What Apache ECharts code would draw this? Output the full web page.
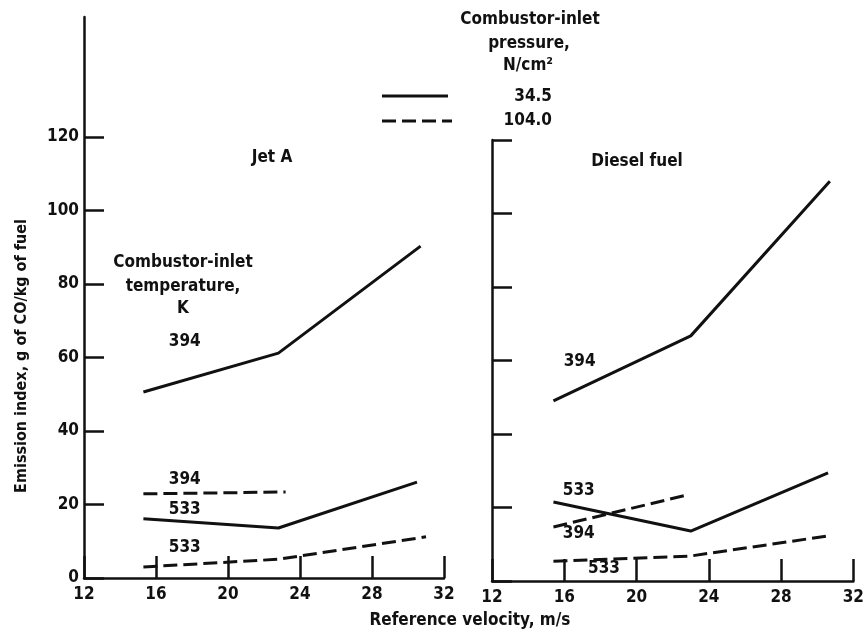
<!DOCTYPE html>
<html>
<head>
<meta charset="utf-8">
<script src="https://cdn.jsdelivr.net/npm/echarts@6/dist/echarts.min.js"></script>
<style>
html,body{margin:0;padding:0;background:#fff}
#chart{width:867px;height:637px}
</style>
</head>
<body>
<div id="chart"></div>
<script>
// data: [reference velocity m/s, emission index g CO/kg fuel]
// Jet A
var jetA_394_p345 = [[15.3, 50.6], [22.8, 61.2], [30.7, 90.3]];
var jetA_533_p345 = [[15.3, 16.1], [22.8, 13.6], [30.5, 26.1]];
var jetA_394_p1040 = [[15.3, 22.9], [23.2, 23.4]];
var jetA_533_p1040 = [[15.3, 3.0], [22.8, 5.1], [31.0, 11.2]];
// Diesel fuel
var diesel_394_p345 = [[15.4, 49.0], [23.0, 66.7], [30.7, 108.8]];
var diesel_533_p345 = [[15.4, 21.5], [23.0, 13.6], [30.6, 29.4]];
var diesel_394_p1040 = [[15.4, 14.7], [22.8, 23.4]];
var diesel_533_p1040 = [[15.4, 5.4], [23.0, 6.8], [30.5, 12.2]];

// curve labels (inlet temperature, K) in data coords
var jetA_labels = [[17.6, 64.2, '394'], [17.6, 26.7, '394'], [17.6, 18.5, '533'], [17.6, 8.2, '533']];
var diesel_labels = [[16.85, 59.6, '394'], [16.8, 24.5, '533'], [16.8, 12.8, '394'], [18.2, 3.5, '533']];

var xTicks = [12, 16, 20, 24, 28, 32];
var yTicks = [0, 20, 40, 60, 80, 100, 120];

var FONT = '"Liberation Sans Narrow", "DejaVu Sans Condensed", sans-serif';
var INK = '#111';
var DASH = [14, 6];

function xAxisOf(grid){
    return {
        gridIndex: grid, type: 'value', min: 12, max: 32, interval: 4,
        axisLine: {lineStyle: {color: INK, width: 2.5}},
        axisTick: {inside: true, length: 22, lineStyle: {color: INK, width: 2.5}},
        axisLabel: {color: INK, fontFamily: FONT, fontWeight: 'bold', fontSize: 17, margin: 8},
        splitLine: {show: false}
    };
}

function lineSeries(data, dashed, axis){
    return {
        type: 'line', data: data, xAxisIndex: axis, yAxisIndex: axis,
        symbol: 'none', silent: true,
        lineStyle: {color: INK, width: 3, type: dashed ? DASH : 'solid'}
    };
}

function labelSeries(data, axis){
    return {
        type: 'scatter', data: data, xAxisIndex: axis, yAxisIndex: axis,
        symbolSize: 0, silent: true,
        itemStyle: {color: INK, opacity: 1},
        label: {
            show: true, position: 'inside', color: INK, opacity: 1,
            fontFamily: FONT, fontWeight: 'bold', fontSize: 17,
            formatter: function(p){ return p.data[2]; }
        }
    };
}

function txt(x, y, s, opt){
    var st = {text: s, x: x, y: y, fill: INK, font: 'bold 17px ' + FONT, textAlign: 'center', textVerticalAlign: 'middle'};
    for(var k in opt) st[k] = opt[k];
    return {type: 'text', style: st, silent: true};
}

var option = {
    animation: false,
    backgroundColor: '#fff',
    grid: [
        {left: 84, top: 17, width: 360, height: 561},
        {left: 492, top: 140, width: 363, height: 441}
    ],
    xAxis: [xAxisOf(0), xAxisOf(1)],
    yAxis: [
        {
            gridIndex: 0, type: 'value', min: 0, max: 152.65,
            axisLine: {show: true, lineStyle: {color: INK, width: 2.5}},
            axisTick: {show: true, inside: true, length: 20, customValues: yTicks, lineStyle: {color: INK, width: 2.5}},
            axisLabel: {customValues: yTicks, color: INK, fontFamily: FONT, fontWeight: 'bold', fontSize: 17, margin: 5},
            splitLine: {show: false}
        },
        {
            gridIndex: 1, type: 'value', min: 0, max: 120, interval: 20,
            axisLine: {show: true, lineStyle: {color: INK, width: 2.5}},
            axisTick: {show: true, inside: true, length: 20, lineStyle: {color: INK, width: 2.5}},
            axisLabel: {show: false},
            splitLine: {show: false}
        }
    ],
    series: [
        lineSeries(jetA_394_p345, false, 0),
        lineSeries(jetA_533_p345, false, 0),
        lineSeries(jetA_394_p1040, true, 0),
        lineSeries(jetA_533_p1040, true, 0),
        lineSeries(diesel_394_p345, false, 1),
        lineSeries(diesel_533_p345, false, 1),
        lineSeries(diesel_394_p1040, true, 1),
        lineSeries(diesel_533_p1040, true, 1),
        labelSeries(jetA_labels, 0),
        labelSeries(diesel_labels, 1)
    ],
    graphic: [
        // panel titles
        txt(272, 158, 'Jet A'),
        txt(637, 162, 'Diesel fuel'),
        // temperature heading
        txt(183, 263, 'Combustor-inlet'),
        txt(183, 287, 'temperature,'),
        txt(183, 309, 'K'),
        // pressure legend
        txt(530, 20, 'Combustor-inlet'),
        txt(529, 44, 'pressure,'),
        txt(528, 66, 'N/cm\u00b2'),
        {type: 'line', shape: {x1: 382, y1: 96, x2: 448, y2: 96}, style: {stroke: INK, lineWidth: 3}, silent: true},
        {type: 'line', shape: {x1: 382, y1: 121, x2: 452, y2: 121}, style: {stroke: INK, lineWidth: 3, lineDash: DASH}, silent: true},
        txt(552, 97, '34.5', {textAlign: 'right'}),
        txt(552, 121, '104.0', {textAlign: 'right'}),
        // axis titles
        txt(470, 621, 'Reference velocity, m/s', {font: 'bold 17px ' + FONT}),
        {
            type: 'text', x: 22, y: 356, rotation: Math.PI / 2, silent: true,
            style: {text: 'Emission index, g of CO/kg of fuel', fill: INK, font: 'bold 16px ' + FONT, textAlign: 'center', textVerticalAlign: 'middle'}
        }
    ]
};

var chart = echarts.init(document.getElementById('chart'));
chart.setOption(option);
</script>
</body>
</html>
